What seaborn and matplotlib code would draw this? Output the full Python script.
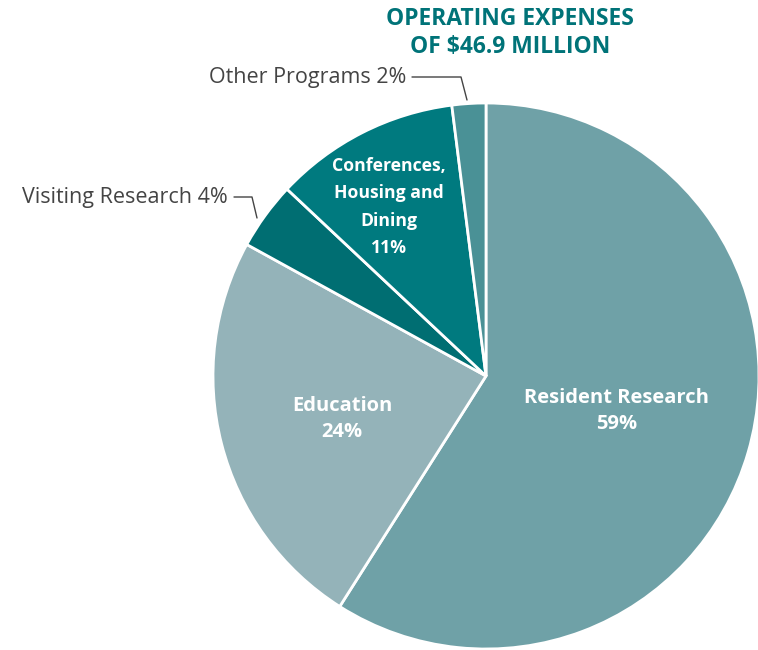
import matplotlib
matplotlib.use("Agg")
import matplotlib.pyplot as plt
import seaborn as sns

# operating expenses breakdown, percent, clockwise from 12 o'clock
categories = ["Resident Research", "Education", "Visiting Research",
              "Conferences, Housing and Dining", "Other Programs"]
shares = [59, 24, 4, 11, 2]
colors = ["#6fa1a7", "#94b3b9", "#006e72", "#007a7f", "#4a9196"]

inner_labels = {
    "Resident Research": "Resident Research\n59%",
    "Education": "Education\n24%",
    "Conferences, Housing and Dining": "Conferences,\nHousing and\nDining\n11%",
}
outer_labels = {
    "Visiting Research": "Visiting Research 4%",
    "Other Programs": "Other Programs 2%",
}

sns.set_theme(style="white")
plt.rcParams["font.family"] = ["Open Sans", "DejaVu Sans"]

W, H = 758, 650
fig = plt.figure(figsize=(W / 100, H / 100), dpi=100)
ax = fig.add_axes([0, 0, 1, 1])


def py(y):
    # pixel-from-top to data y
    return H - y


cx, cy, r = 486, 376, 273
ax.pie(shares, colors=colors, startangle=90, counterclock=False,
       center=(cx, py(cy)), radius=r, frame=True,
       wedgeprops=dict(edgecolor="white", linewidth=2))
ax.set_xlim(0, W)
ax.set_ylim(0, H)
ax.set_aspect("equal")
ax.axis("off")

# labels inside wedges
inner_pos = {
    "Resident Research": (617, 411, 14.5, 1.4),
    "Education": (342, 419, 14.5, 1.4),
    "Conferences, Housing and Dining": (389, 207, 12.7, 1.65),
}
for name, (x, y, fs, ls) in inner_pos.items():
    ax.text(x, py(y), inner_labels[name], ha="center", va="center",
            color="white", fontsize=fs, fontweight="bold", linespacing=ls)

# outside labels with leader lines
dark = "#444444"
ax.text(406, py(78), outer_labels["Other Programs"], ha="right", va="center",
        color=dark, fontsize=15.5)
ax.plot([412, 461, 467], [py(77), py(77), py(100)], color=dark, lw=1)

ax.text(228, py(198), outer_labels["Visiting Research"], ha="right", va="center",
        color=dark, fontsize=15.5)
ax.plot([234, 252, 257], [py(197), py(197), py(218)], color=dark, lw=1)

ax.text(510, py(33), "OPERATING EXPENSES\nOF $46.9 MILLION", ha="center",
        va="center", color="#007378", fontsize=16.5, fontweight="bold",
        linespacing=1.25)

fig.savefig("out.png", dpi=100)
